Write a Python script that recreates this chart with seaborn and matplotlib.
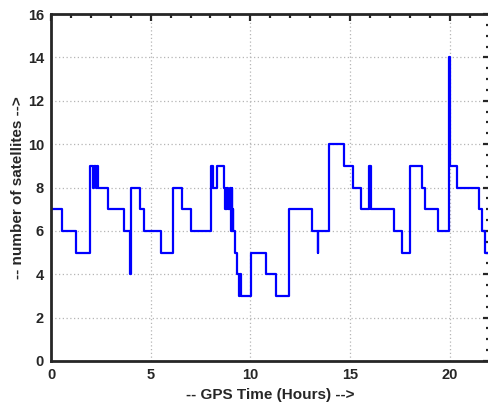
import matplotlib
matplotlib.use("Agg")
import matplotlib.pyplot as plt
from matplotlib.ticker import MultipleLocator
import numpy as np
import pandas as pd
import seaborn as sns

# Hour at which each new satellite count starts (step-post)
hours = [0.00, 0.54, 1.25, 1.97, 2.12, 2.16, 2.28, 2.31, 2.37, 2.88,
         3.68, 3.96, 4.01, 4.48, 4.68, 5.54, 6.10, 6.58, 7.03, 8.01,
         8.13, 8.35, 8.68, 8.74, 8.77, 8.80, 8.83, 8.86, 8.98, 9.02,
         9.05, 9.07, 9.09, 9.12, 9.15, 9.23, 9.32, 9.43, 9.48, 9.55,
         10.02, 10.78, 11.29, 11.94, 13.11, 13.38, 13.41, 13.93, 14.70, 15.17,
         15.54, 15.96, 15.99, 16.02, 16.07, 17.20, 17.62, 17.99, 18.63, 18.76,
         19.42, 19.97, 20.02, 20.38, 21.49, 21.61, 21.78, 22.00]
satellites = [7, 6, 5, 9, 8, 9, 8, 9, 8, 7,
              6, 4, 8, 7, 6, 5, 8, 7, 6, 9,
              8, 9, 8, 7, 8, 7, 8, 7, 8, 7,
              6, 8, 6, 7, 6, 5, 4, 3, 4, 3,
              5, 4, 3, 7, 6, 5, 6, 10, 9, 8,
              7, 9, 7, 9, 7, 6, 5, 9, 8, 7,
              6, 14, 9, 8, 7, 6, 5, 5]

x_ticks = [0, 5, 10, 15, 20]
y_ticks = [0, 2, 4, 6, 8, 10, 12, 14, 16]

df = pd.DataFrame({"hours": hours, "satellites": satellites})

sns.set_style("white")
plt.rcParams["font.family"] = ["Liberation Sans", "DejaVu Sans"]
plt.rcParams["font.weight"] = "bold"

fig = plt.figure(figsize=(4.88, 4.03), dpi=100)
ax = fig.add_axes([51 / 488, 1 - 361 / 403, (489.5 - 51) / 488, (361 - 14) / 403])

sns.lineplot(data=df, x="hours", y="satellites", ax=ax, color="#0000ff",
             linewidth=1.6, drawstyle="steps-post", estimator=None, sort=False)

ax.set_xlim(0, 22)
ax.set_ylim(0, 16)
ax.set_xticks(x_ticks)
ax.set_yticks(y_ticks)
ax.xaxis.set_minor_locator(MultipleLocator(1))
ax.yaxis.set_minor_locator(MultipleLocator(0.5))
ax.grid(True, which="major", linestyle=(0, (1, 2)), color="#b5b5b5", linewidth=0.9)
ax.set_axisbelow(True)

ax.tick_params(which="both", direction="in", top=True, right=True,
               color="#262626", width=1.6, labelsize=10.5, labelcolor="#262626")
ax.tick_params(which="major", length=5, pad=5)
ax.tick_params(which="minor", length=3)
for lbl in ax.get_xticklabels() + ax.get_yticklabels():
    lbl.set_fontweight("bold")
for s in ax.spines.values():
    s.set_linewidth(2.0)
    s.set_color("#262626")

ax.set_xlabel("-- GPS Time (Hours) -->", fontsize=11, fontweight="bold",
              color="#262626", labelpad=4)
ax.set_ylabel("-- number of satellites -->", fontsize=11, fontweight="bold",
              color="#262626", labelpad=2)

fig.savefig("out.png", dpi=100)
